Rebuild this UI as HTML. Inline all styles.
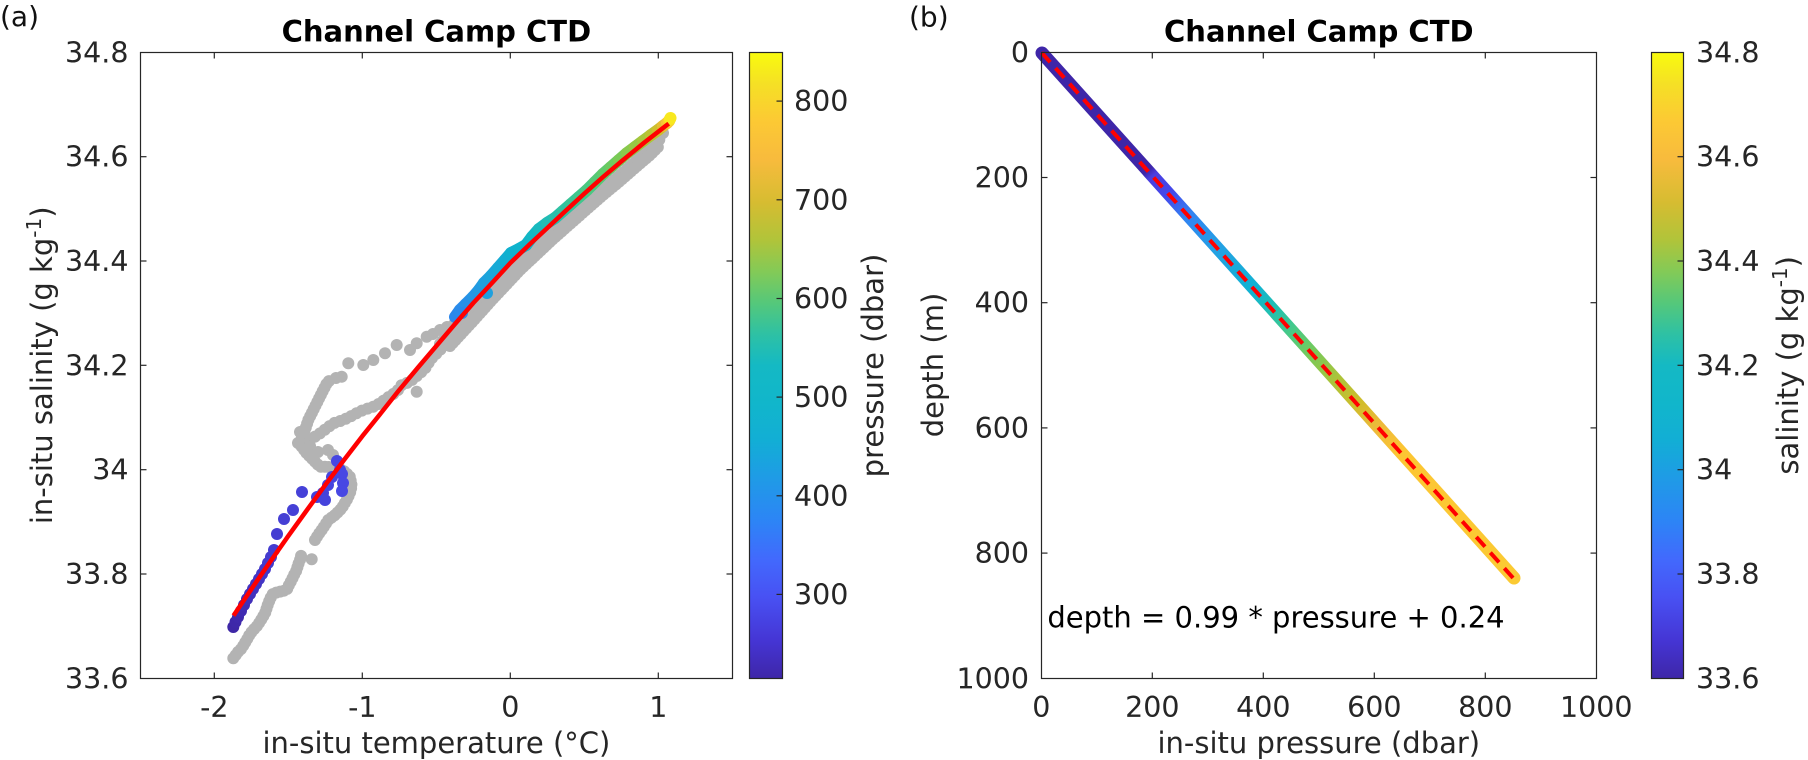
<!DOCTYPE html>
<html>
<head>
<meta charset="utf-8">
<style>
  html,body{margin:0;padding:0;background:#fff;}
  svg{display:block;}
  text{font-family:"DejaVu Sans","Liberation Sans",sans-serif;}
  .tk{font-size:28.5px;fill:#262626;}
  .lb{font-size:29px;fill:#262626;}
  .tt{font-size:29px;font-weight:bold;fill:#000;}
</style>
</head>
<body>
<svg width="1808" height="760" viewBox="0 0 1808 760" xmlns="http://www.w3.org/2000/svg">
<defs>
  <linearGradient id="parula" x1="0" y1="1" x2="0" y2="0">
    <stop offset="0" stop-color="#3e26a8"/>
    <stop offset="0.06" stop-color="#4535d4"/>
    <stop offset="0.13" stop-color="#4851f3"/>
    <stop offset="0.19" stop-color="#4269fd"/>
    <stop offset="0.25" stop-color="#2d84f6"/>
    <stop offset="0.32" stop-color="#1f9be6"/>
    <stop offset="0.38" stop-color="#12aed5"/>
    <stop offset="0.44" stop-color="#11b6cb"/>
    <stop offset="0.50" stop-color="#14b9c4"/>
    <stop offset="0.55" stop-color="#2ec1a4"/>
    <stop offset="0.60" stop-color="#55c87a"/>
    <stop offset="0.65" stop-color="#83ca57"/>
    <stop offset="0.70" stop-color="#b0c43a"/>
    <stop offset="0.76" stop-color="#d6bc31"/>
    <stop offset="0.83" stop-color="#f8bb3d"/>
    <stop offset="0.89" stop-color="#fcc934"/>
    <stop offset="0.95" stop-color="#f5e025"/>
    <stop offset="1" stop-color="#f9fb0e"/>
  </linearGradient>
  <linearGradient id="lineg" gradientUnits="userSpaceOnUse" x1="1041.3" y1="52.3" x2="1514" y2="578.3">
    <stop offset="0" stop-color="#3e26a8"/>
    <stop offset="0.225" stop-color="#3e26a8"/>
    <stop offset="0.235" stop-color="#4a3ee0"/>
    <stop offset="0.27" stop-color="#4449ea"/>
    <stop offset="0.31" stop-color="#3283f2"/>
    <stop offset="0.37" stop-color="#24a0e4"/>
    <stop offset="0.45" stop-color="#12b3d2"/>
    <stop offset="0.49" stop-color="#22c0b0"/>
    <stop offset="0.53" stop-color="#48c986"/>
    <stop offset="0.57" stop-color="#74ca5c"/>
    <stop offset="0.62" stop-color="#a9c43b"/>
    <stop offset="0.67" stop-color="#d0bd2b"/>
    <stop offset="0.71" stop-color="#ecb93b"/>
    <stop offset="0.76" stop-color="#fcc633"/>
    <stop offset="1" stop-color="#fbca33"/>
  </linearGradient>
</defs>

<rect x="0" y="0" width="1808" height="760" fill="#fff"/>

<!-- ================= PANEL (a) ================= -->
<text x="0" y="26" style="font-size:28px;fill:#111;">(a)</text>
<text class="tt" x="436.4" y="41.5" text-anchor="middle">Channel Camp CTD</text>

<!-- gray scatter -->
<g fill="none" stroke="#b3b3b3" stroke-width="12" stroke-linecap="round" stroke-linejoin="round">
  <polyline stroke-dasharray="0 4" points="233.3,658.3 238,652 241.7,648.3 246.7,640 250,634 253.3,630 257,626 260,621.7 265,613.3 268.3,603.3 271,597 273.3,593.3 280,591.7 286.7,590 289,585 291.7,580 294,575 296.7,570 298,565 300,560 301.7,553.3"/>
  <polyline stroke-dasharray="0 4" points="315,540 318,535 321.7,530 325,525 328.3,520 335,515 341.7,508.3 346.7,500 350,493 351.7,486 350,477 345,471.7 340,469 335,468 326.7,466.7 320,466.7 313.3,460 306.7,453.3 301.7,446.7 301.7,438.3 305,430 308.3,420 313.3,410 318.3,400 323.3,390 327,383 330,380"/>
  <polyline stroke-dasharray="0 6" points="310,440 320,433.3 327,428 333.3,423.3 343.3,420 350,416.7 357,413 363.3,410 373.3,406.7 380,403.3 386.7,398.3 396.7,391.7 401.7,385 410,381.7 420,373.3 426.7,366.7 430,360 436.7,353.3 443.3,346.7 450,340 456.7,333.3"/>
  <polyline stroke-dasharray="0 4" points="440,344 458,324 474,307 490,292 505,277 520,263 537,247 553,232 570,218 587,203 603,189.4 620,175 636,161 653,146 662,137"/>
  <polyline stroke-dasharray="0 4" points="450,346 462,333 474,320 490,302 505,286 520,270 537,254 553,239 570,224 587,209 603,195 620,181 636,167 650,155 658,147"/>
</g>
<g fill="#b3b3b3">
  <circle cx="311.7" cy="559.3" r="6"/>
  <circle cx="298" cy="443" r="6"/>
  <circle cx="300" cy="432" r="6"/>
  <circle cx="310" cy="446" r="6"/>
  <circle cx="318" cy="452" r="6"/>
  <circle cx="328" cy="450" r="6"/>
  <circle cx="333" cy="455" r="6"/>
  <circle cx="416.7" cy="391.7" r="6"/>
  <circle cx="336" cy="378" r="6"/>
  <circle cx="341.7" cy="376.7" r="6"/>
  <circle cx="348.3" cy="363.3" r="6"/>
  <circle cx="363.3" cy="365" r="6"/>
  <circle cx="373.3" cy="360" r="6"/>
  <circle cx="385" cy="353.3" r="6"/>
  <circle cx="396.7" cy="345" r="6"/>
  <circle cx="410" cy="350" r="6"/>
  <circle cx="416.7" cy="343.3" r="6"/>
  <circle cx="426.7" cy="336.7" r="6"/>
  <circle cx="433" cy="334" r="6"/>
  <circle cx="440" cy="330" r="6"/>
  <circle cx="447" cy="327" r="6"/>
  <circle cx="453.3" cy="325" r="6"/>
  <circle cx="663" cy="133" r="6"/>
</g>

<!-- colored scatter: lower blue -->
<g>
  <circle cx="233.3" cy="627" r="6" fill="#3e27a6"/>
  <circle cx="235.5" cy="622" r="6" fill="#3e28a9"/>
  <circle cx="238" cy="617" r="6" fill="#3f29ac"/>
  <circle cx="241" cy="611" r="6" fill="#402bb1"/>
  <circle cx="244" cy="605" r="6" fill="#402db5"/>
  <circle cx="247" cy="599" r="6" fill="#412fb9"/>
  <circle cx="250" cy="594" r="6" fill="#4231bc"/>
  <circle cx="253" cy="589" r="6" fill="#4232bf"/>
  <circle cx="256" cy="584" r="6" fill="#4234c2"/>
  <circle cx="259" cy="579" r="6" fill="#4335c5"/>
  <circle cx="262" cy="574" r="6" fill="#4337c8"/>
  <circle cx="265" cy="569" r="6" fill="#4338ca"/>
  <circle cx="268" cy="563" r="6" fill="#4339cc"/>
  <circle cx="271" cy="557" r="6" fill="#443bce"/>
  <circle cx="274" cy="550" r="6" fill="#443cd0"/>
  <circle cx="277" cy="534" r="6" fill="#453dd2"/>
  <circle cx="284" cy="519" r="6" fill="#453fd4"/>
  <circle cx="293" cy="510" r="6" fill="#4540d6"/>
  <circle cx="302" cy="492" r="6" fill="#4541d8"/>
  <circle cx="317" cy="497" r="6" fill="#4542da"/>
  <circle cx="323" cy="493" r="6" fill="#4542da"/>
  <circle cx="325" cy="500" r="6" fill="#4543dc"/>
  <circle cx="328" cy="485" r="6" fill="#4644de"/>
  <circle cx="332" cy="477" r="6" fill="#4645e0"/>
  <circle cx="337" cy="461" r="6" fill="#4646e2"/>
  <circle cx="340" cy="470" r="6" fill="#4646e2"/>
  <circle cx="342" cy="474" r="6" fill="#4747e3"/>
  <circle cx="343" cy="483" r="6" fill="#4747e3"/>
  <circle cx="342" cy="491" r="6" fill="#4747e3"/>
</g>

<!-- colored scatter: upper band -->
<g stroke-width="12" stroke-linecap="round" fill="none">
  <line x1="455" y1="317" x2="460" y2="310" stroke="#2b87ec"/>
  <line x1="460" y1="310" x2="466" y2="304" stroke="#2a8bea"/>
  <line x1="466" y1="304" x2="473" y2="297" stroke="#2890e7"/>
  <line x1="473" y1="297" x2="479" y2="290" stroke="#2595e4"/>
  <line x1="479" y1="290" x2="484" y2="283" stroke="#229ae1"/>
  <line x1="484" y1="283" x2="491" y2="276" stroke="#1fa0de"/>
  <line x1="491" y1="276" x2="498" y2="268" stroke="#1ba5da"/>
  <line x1="498" y1="268" x2="505" y2="260" stroke="#17aad6"/>
  <line x1="505" y1="260" x2="511" y2="253" stroke="#13aed2"/>
  <line x1="511" y1="253" x2="519" y2="249" stroke="#10b1cf"/>
  <line x1="519" y1="249" x2="526" y2="245" stroke="#0fb3cc"/>
  <line x1="526" y1="245" x2="532" y2="237" stroke="#10b5c9"/>
  <line x1="532" y1="237" x2="539" y2="229" stroke="#13b7c4"/>
  <line x1="539" y1="229" x2="547" y2="223" stroke="#19b9be"/>
  <line x1="547" y1="223" x2="555" y2="218" stroke="#21bcb5"/>
  <line x1="555" y1="218" x2="563" y2="211" stroke="#29bfab"/>
  <line x1="563" y1="211" x2="571" y2="204" stroke="#31c2a1"/>
  <line x1="571" y1="204" x2="579" y2="197" stroke="#38c496"/>
  <line x1="579" y1="197" x2="587" y2="190" stroke="#40c68c"/>
  <line x1="587" y1="190" x2="595" y2="182" stroke="#4ac882"/>
  <line x1="595" y1="182" x2="603" y2="174" stroke="#55c977"/>
  <line x1="603" y1="174" x2="611" y2="167" stroke="#60ca6c"/>
  <line x1="611" y1="167" x2="619" y2="160" stroke="#6cca61"/>
  <line x1="619" y1="160" x2="627" y2="153" stroke="#7aca57"/>
  <line x1="627" y1="153" x2="635" y2="147" stroke="#89c94d"/>
  <line x1="635" y1="147" x2="643" y2="141" stroke="#98c844"/>
  <line x1="643" y1="141" x2="651" y2="135" stroke="#a8c63c"/>
  <line x1="651" y1="135" x2="658" y2="130" stroke="#bac334"/>
  <line x1="658" y1="130" x2="663" y2="126" stroke="#cfbf2e"/>
  <line x1="663" y1="126" x2="667" y2="123" stroke="#e6bd34"/>
  <line x1="667" y1="123" x2="669" y2="121" stroke="#f6c33a"/>
  <line x1="669" y1="121" x2="670" y2="119" stroke="#f9d32a"/>
  <line x1="670" y1="119" x2="670.5" y2="118" stroke="#f8e81f"/>
</g>
<g>
  <circle cx="462" cy="313" r="6" fill="#2b89eb"/>
  <circle cx="487" cy="293" r="6" fill="#1fa0de"/>
</g>

<!-- red fit line (smooth) -->
<polyline fill="none" stroke="#ff0000" stroke-width="4.5" stroke-linejoin="round" stroke-linecap="butt" points="233.5,615.6 251.3,589.2 270,562 288.3,535.9 307,510 325.3,484.9 344,460 362.3,436.2 381,413 399.3,389.9 418,367.5 436.3,346.0 455,324 473.3,303 492,283 510.3,263 529,245 547.3,228 566,210.5 584.3,193.6 603,177 621.3,161.4 645,142 668.7,123.6"/>

<!-- axes (a) -->
<rect x="140.5" y="52.5" width="592" height="626" fill="none" stroke="#262626" stroke-width="1.2"/>
<g stroke="#262626" stroke-width="1.2">
  <line x1="214.3" y1="678.5" x2="214.3" y2="672.5"/><line x1="214.3" y1="52.5" x2="214.3" y2="58.5"/>
  <line x1="362.3" y1="678.5" x2="362.3" y2="672.5"/><line x1="362.3" y1="52.5" x2="362.3" y2="58.5"/>
  <line x1="510.3" y1="678.5" x2="510.3" y2="672.5"/><line x1="510.3" y1="52.5" x2="510.3" y2="58.5"/>
  <line x1="658.3" y1="678.5" x2="658.3" y2="672.5"/><line x1="658.3" y1="52.5" x2="658.3" y2="58.5"/>
  <line x1="140.5" y1="574" x2="146.5" y2="574"/><line x1="732.5" y1="574" x2="726.5" y2="574"/>
  <line x1="140.5" y1="469.7" x2="146.5" y2="469.7"/><line x1="732.5" y1="469.7" x2="726.5" y2="469.7"/>
  <line x1="140.5" y1="365.3" x2="146.5" y2="365.3"/><line x1="732.5" y1="365.3" x2="726.5" y2="365.3"/>
  <line x1="140.5" y1="261" x2="146.5" y2="261"/><line x1="732.5" y1="261" x2="726.5" y2="261"/>
  <line x1="140.5" y1="156.7" x2="146.5" y2="156.7"/><line x1="732.5" y1="156.7" x2="726.5" y2="156.7"/>
</g>
<g class="tk" text-anchor="end">
  <text x="128.5" y="688.3">33.6</text>
  <text x="128.5" y="584">33.8</text>
  <text x="128.5" y="479.7">34</text>
  <text x="128.5" y="375.3">34.2</text>
  <text x="128.5" y="271">34.4</text>
  <text x="128.5" y="166.7">34.6</text>
  <text x="128.5" y="62.3">34.8</text>
</g>
<g class="tk" text-anchor="middle">
  <text x="214.3" y="717">-2</text>
  <text x="362.3" y="717">-1</text>
  <text x="510.3" y="717">0</text>
  <text x="658.3" y="717">1</text>
</g>
<text class="lb" x="436.4" y="753" text-anchor="middle">in-situ temperature (°C)</text>
<text class="lb" transform="translate(52,365.3) rotate(-90)" text-anchor="middle">in-situ salinity (g kg<tspan dy="-11" style="font-size:20px">-1</tspan><tspan dy="11">)</tspan></text>

<!-- colorbar (a) -->
<rect x="749.5" y="52.5" width="33" height="626" fill="url(#parula)" stroke="#262626" stroke-width="1.2"/>
<g stroke="#262626" stroke-width="1.2">
  <line x1="782.5" y1="594.4" x2="776.5" y2="594.4"/>
  <line x1="782.5" y1="495.8" x2="776.5" y2="495.8"/>
  <line x1="782.5" y1="397.1" x2="776.5" y2="397.1"/>
  <line x1="782.5" y1="298.5" x2="776.5" y2="298.5"/>
  <line x1="782.5" y1="199.8" x2="776.5" y2="199.8"/>
  <line x1="782.5" y1="101.1" x2="776.5" y2="101.1"/>
</g>
<g class="tk">
  <text x="794" y="604.4">300</text>
  <text x="794" y="505.8">400</text>
  <text x="794" y="407.1">500</text>
  <text x="794" y="308.5">600</text>
  <text x="794" y="209.8">700</text>
  <text x="794" y="111.1">800</text>
</g>
<text class="lb" transform="translate(883,365.5) rotate(-90)" text-anchor="middle">pressure (dbar)</text>

<!-- ================= PANEL (b) ================= -->
<text x="909" y="26.5" style="font-size:28px;fill:#111;">(b)</text>
<text class="tt" x="1318.8" y="41.5" text-anchor="middle">Channel Camp CTD</text>

<line x1="1042" y1="53" x2="1514" y2="578" stroke="url(#lineg)" stroke-width="13" stroke-linecap="round"/>
<line x1="1041.5" y1="52.5" x2="1514" y2="579" stroke="#ff0000" stroke-width="4" stroke-dasharray="13 8"/>

<rect x="1041.5" y="52.5" width="555" height="626" fill="none" stroke="#262626" stroke-width="1.2"/>
<g stroke="#262626" stroke-width="1.2">
  <line x1="1152.3" y1="678.5" x2="1152.3" y2="672.5"/><line x1="1152.3" y1="52.5" x2="1152.3" y2="58.5"/>
  <line x1="1263.3" y1="678.5" x2="1263.3" y2="672.5"/><line x1="1263.3" y1="52.5" x2="1263.3" y2="58.5"/>
  <line x1="1374.3" y1="678.5" x2="1374.3" y2="672.5"/><line x1="1374.3" y1="52.5" x2="1374.3" y2="58.5"/>
  <line x1="1485.3" y1="678.5" x2="1485.3" y2="672.5"/><line x1="1485.3" y1="52.5" x2="1485.3" y2="58.5"/>
  <line x1="1041.5" y1="177.5" x2="1047.5" y2="177.5"/><line x1="1596.5" y1="177.5" x2="1590.5" y2="177.5"/>
  <line x1="1041.5" y1="302.7" x2="1047.5" y2="302.7"/><line x1="1596.5" y1="302.7" x2="1590.5" y2="302.7"/>
  <line x1="1041.5" y1="427.9" x2="1047.5" y2="427.9"/><line x1="1596.5" y1="427.9" x2="1590.5" y2="427.9"/>
  <line x1="1041.5" y1="553.1" x2="1047.5" y2="553.1"/><line x1="1596.5" y1="553.1" x2="1590.5" y2="553.1"/>
</g>
<g class="tk" text-anchor="end">
  <text x="1029" y="62.3">0</text>
  <text x="1029" y="187.5">200</text>
  <text x="1029" y="312.7">400</text>
  <text x="1029" y="437.9">600</text>
  <text x="1029" y="563.1">800</text>
  <text x="1029" y="688.3">1000</text>
</g>
<g class="tk" text-anchor="middle">
  <text x="1041.3" y="717">0</text>
  <text x="1152.3" y="717">200</text>
  <text x="1263.3" y="717">400</text>
  <text x="1374.3" y="717">600</text>
  <text x="1485.3" y="717">800</text>
  <text x="1596.3" y="717">1000</text>
</g>
<text class="lb" x="1318.8" y="753" text-anchor="middle">in-situ pressure (dbar)</text>
<text class="lb" transform="translate(943,365) rotate(-90)" text-anchor="middle">depth (m)</text>
<text x="1047.4" y="627.3" style="font-size:29px;fill:#000;">depth = 0.99 * pressure + 0.24</text>

<!-- colorbar (b) -->
<rect x="1651.5" y="52.5" width="32" height="626" fill="url(#parula)" stroke="#262626" stroke-width="1.2"/>
<g stroke="#262626" stroke-width="1.2">
  <line x1="1683.5" y1="574" x2="1677.5" y2="574"/>
  <line x1="1683.5" y1="469.7" x2="1677.5" y2="469.7"/>
  <line x1="1683.5" y1="365.3" x2="1677.5" y2="365.3"/>
  <line x1="1683.5" y1="261" x2="1677.5" y2="261"/>
  <line x1="1683.5" y1="156.7" x2="1677.5" y2="156.7"/>
</g>
<g class="tk">
  <text x="1696" y="688.3">33.6</text>
  <text x="1696" y="584">33.8</text>
  <text x="1696" y="479.7">34</text>
  <text x="1696" y="375.3">34.2</text>
  <text x="1696" y="271">34.4</text>
  <text x="1696" y="166.7">34.6</text>
  <text x="1696" y="62.3">34.8</text>
</g>
<text class="lb" transform="translate(1798,365.3) rotate(-90)" text-anchor="middle">salinity (g kg<tspan dy="-11" style="font-size:20px">-1</tspan><tspan dy="11">)</tspan></text>
</svg>
</body>
</html>
